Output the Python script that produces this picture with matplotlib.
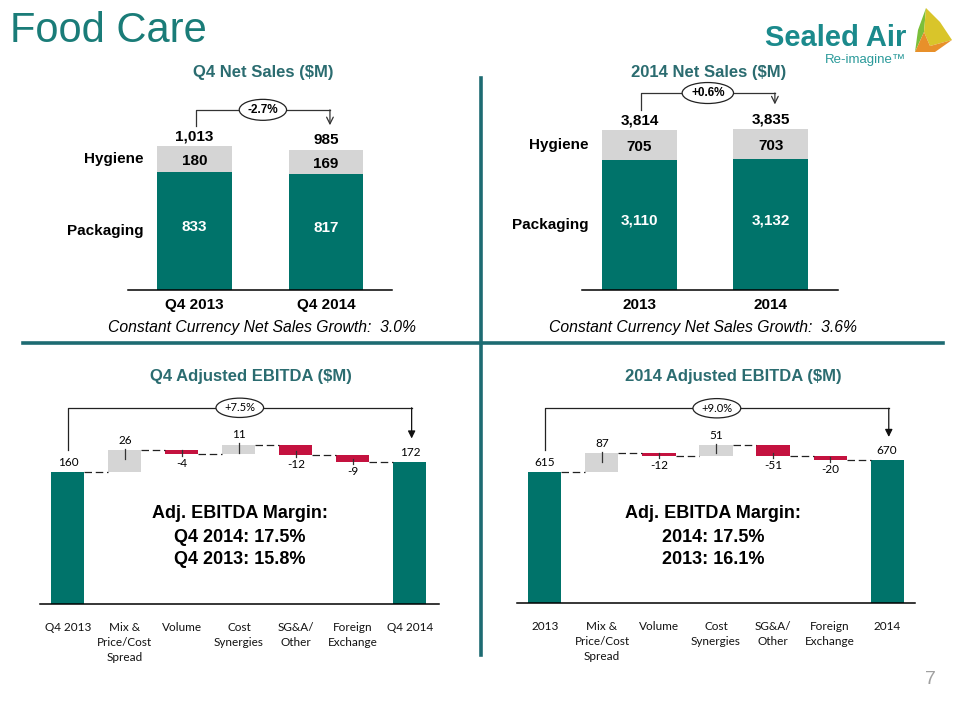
import matplotlib
matplotlib.use("Agg")
import matplotlib.pyplot as plt
from matplotlib.lines import Line2D
from matplotlib.patches import Polygon

TEAL = "#00736A"
GRAY = "#D5D5D5"
RED = "#C4123F"
HEAD = "#2B6C70"
RULE = "#1D6B72"
ARIAL = ["Liberation Sans", "DejaVu Sans"]
NARROW = ["Liberation Sans Narrow", "Liberation Sans", "DejaVu Sans"]
CALIBRI = ["Lato", "DejaVu Sans"]

# net sales, stacked
q4_years = ["Q4 2013", "Q4 2014"]
q4_packaging = [833, 817]
q4_hygiene = [180, 169]
q4_total = [1013, 985]
q4_growth = "-2.7%"
q4_cc_growth = "3.0%"

fy_years = ["2013", "2014"]
fy_packaging = [3110, 3132]
fy_hygiene = [705, 703]
fy_total = [3814, 3835]
fy_growth = "+0.6%"
fy_cc_growth = "3.6%"

# adjusted EBITDA bridges
q4_bridge_cats = ["Q4 2013", "Mix &\nPrice/Cost\nSpread", "Volume", "Cost\nSynergies",
                  "SG&A/\nOther", "Foreign\nExchange", "Q4 2014"]
q4_bridge = [160, 26, -4, 11, -12, -9, 172]
q4_bridge_growth = "+7.5%"
q4_margin = ["Q4 2014: 17.5%", "Q4 2013: 15.8%"]

fy_bridge_cats = ["2013", "Mix &\nPrice/Cost\nSpread", "Volume", "Cost\nSynergies",
                  "SG&A/\nOther", "Foreign\nExchange", "2014"]
fy_bridge = [615, 87, -12, 51, -51, -20, 670]
fy_bridge_growth = "+9.0%"
fy_margin = ["2014: 17.5%", "2013: 16.1%"]

W, H = 960, 720
fig = plt.figure(figsize=(9.6, 7.2), dpi=100)


def box(l, t, r, b):
    return [l / W, 1 - b / H, (r - l) / W, (b - t) / H]


def ftext(x, y, s, **kw):
    fig.text(x / W, 1 - y / H, s, **kw)


def clean(ax):
    for s in ["top", "right", "left"]:
        ax.spines[s].set_visible(False)
    ax.spines["bottom"].set_linewidth(1.1)
    ax.set_yticks([])
    ax.patch.set_alpha(0)


def stacked(rect, xlim, ytop, cats, pack, hyg, tot, growth):
    ax = fig.add_axes(rect)
    x = list(range(len(cats)))
    w = 0.57
    ax.bar(x, pack, w, color=TEAL)
    ax.bar(x, hyg, w, bottom=pack, color=GRAY)
    ax.set_xlim(*xlim)
    ax.set_ylim(0, ytop)
    clean(ax)
    ax.set_xticks(x, cats, fontsize=11, fontweight="bold", family=ARIAL)
    ax.tick_params(axis="x", length=0, pad=6)
    for i in x:
        ax.text(i, pack[i] / 2 + ytop * 0.02, f"{pack[i]:,}", color="white", ha="center",
                va="center", fontsize=11, fontweight="bold", family=ARIAL)
        ax.text(i, pack[i] + hyg[i] / 2 - ytop * 0.01, f"{hyg[i]:,}", color="black",
                ha="center", va="center", fontsize=11, fontweight="bold", family=ARIAL)
        ax.annotate(f"{tot[i]:,}", (i, tot[i]), xytext=(0, 2), textcoords="offset points",
                    ha="center", va="bottom", fontsize=11, fontweight="bold", family=ARIAL)
    lab_x = -w / 2 - 0.1
    ax.text(lab_x, pack[0] + hyg[0] / 2, "Hygiene", ha="right", va="center",
            fontsize=11, fontweight="bold", family=ARIAL)
    ax.text(lab_x, pack[0] / 2, "Packaging", ha="right", va="center",
            fontsize=11, fontweight="bold", family=ARIAL)
    # growth bracket
    x0, x1 = 0.01, 1.03
    y0 = tot[0] + ytop * 0.105
    yb = max(tot) + ytop * 0.19
    y1 = tot[1] + ytop * 0.13
    ax.plot([x0, x0, x1], [y0, yb, yb], color="#333333", lw=0.9, clip_on=False)
    ax.annotate("", xy=(x1, y1), xytext=(x1, yb),
                arrowprops=dict(arrowstyle="->", color="#333333", lw=0.9,
                                shrinkA=0, shrinkB=0, mutation_scale=12))
    ax.text((x0 + x1) / 2, yb, growth, ha="center", va="center", fontsize=8.5,
            fontweight="bold", family=ARIAL,
            bbox=dict(boxstyle="ellipse,pad=0.12", fc="white", ec="#222222", lw=0.9))
    return ax


def bridge(rect, xlim, ytop, cats, vals, growth):
    ax = fig.add_axes(rect)
    n = len(vals)
    bottoms, heights, colors, levels = [], [], [], []
    run = 0
    for i, v in enumerate(vals):
        if i == 0 or i == n - 1:
            bottoms.append(0)
            heights.append(v)
            colors.append(TEAL)
            run = v
        else:
            bottoms.append(run if v >= 0 else run + v)
            heights.append(abs(v))
            colors.append(GRAY if v >= 0 else RED)
            run += v
        levels.append(run)
    w = 0.58
    ax.bar(range(n), heights, w, bottom=bottoms, color=colors)
    ax.set_xlim(*xlim)
    ax.set_ylim(0, ytop)
    clean(ax)
    ax.set_xticks(range(n), cats, fontsize=8.5, family=CALIBRI, linespacing=1.45,
                  color="#111111")
    ax.tick_params(axis="x", length=0, pad=13)
    for i in range(n - 1):
        ax.plot([i + w / 2, i + 1 - w / 2], [levels[i], levels[i]], color="#222222",
                lw=0.9, ls=(0, (6, 3)))
    d = ytop * 0.02
    for i, v in enumerate(vals):
        lab = f"{v}"
        if i == 0 or i == n - 1:
            ax.annotate(lab, (i, v), xytext=(0, 3), textcoords="offset points",
                        ha="center", va="bottom", fontsize=8.5, family=CALIBRI)
        elif v >= 0:
            top = bottoms[i] + heights[i]
            ax.plot([i, i], [top - 2 * d, top + 0.3 * d], color="#333333", lw=0.9)
            ax.annotate(lab, (i, top), xytext=(0, 3), textcoords="offset points",
                        ha="center", va="bottom", fontsize=8.5, family=CALIBRI)
        else:
            bot = bottoms[i]
            ax.plot([i, i], [bot - 0.5 * d, bot + 0.8 * d], color="#333333", lw=0.9)
            ax.annotate(lab, (i, bot), xytext=(0, -3), textcoords="offset points",
                        ha="center", va="top", fontsize=8.5, family=CALIBRI)
    # growth bracket
    x0, x1 = 0, n - 1 + 0.03
    y0 = vals[0] + ytop * 0.108
    yb = vals[0] + ytop * 0.314
    y1 = vals[-1] + ytop * 0.115
    ax.plot([x0, x0, x1], [y0, yb, yb], color="#222222", lw=0.9, clip_on=False)
    ax.annotate("", xy=(x1, y1), xytext=(x1, yb),
                arrowprops=dict(arrowstyle="-|>", color="#111111", lw=0.9,
                                shrinkA=0, shrinkB=0, mutation_scale=11))
    ax.text((x0 + x1) / 2, yb, growth, ha="center", va="center", fontsize=8,
            family=CALIBRI,
            bbox=dict(boxstyle="ellipse,pad=0.12", fc="white", ec="#222222", lw=0.9))
    return ax


stacked(box(128, 100, 392, 290), (-0.506, 1.502), 1336, q4_years,
        q4_packaging, q4_hygiene, q4_total, q4_growth)
stacked(box(582, 100, 838, 290), (-0.437, 1.51), 4529, fy_years,
        fy_packaging, fy_hygiene, fy_total, fy_growth)
bridge(box(40, 400, 439, 604), (-0.49, 6.51), 247, q4_bridge_cats, q4_bridge,
       q4_bridge_growth)
bridge(box(517, 400, 915, 603), (-0.49, 6.49), 953, fy_bridge_cats, fy_bridge,
       fy_bridge_growth)

# headings
ftext(10, 31, "Food Care", fontsize=30, color="#1A7C78", family=ARIAL, va="center")
ftext(263, 72, "Q4 Net Sales ($M)", fontsize=12, fontweight="bold", color=HEAD,
      family=ARIAL, ha="center", va="center")
ftext(709, 72, "2014 Net Sales ($M)", fontsize=12, fontweight="bold", color=HEAD,
      family=ARIAL, ha="center", va="center")
ftext(251, 376, "Q4 Adjusted EBITDA ($M)", fontsize=12, fontweight="bold", color=HEAD,
      family=ARIAL, ha="center", va="center")
ftext(733, 376, "2014 Adjusted EBITDA ($M)", fontsize=12, fontweight="bold", color=HEAD,
      family=ARIAL, ha="center", va="center")

ftext(262, 328, f"Constant Currency Net Sales Growth:  {q4_cc_growth}", fontsize=11.3,
      style="italic", family=NARROW, ha="center", va="center")
ftext(703, 328, f"Constant Currency Net Sales Growth:  {fy_cc_growth}", fontsize=11.3,
      style="italic", family=NARROW, ha="center", va="center")

for cx, lines in [(240, q4_margin), (713, fy_margin)]:
    ftext(cx, 514, "Adj. EBITDA Margin:", fontsize=13, fontweight="bold", family=ARIAL,
          ha="center", va="center")
    ftext(cx, 537, lines[0], fontsize=13, fontweight="bold", family=ARIAL,
          ha="center", va="center")
    ftext(cx, 559, lines[1], fontsize=13, fontweight="bold", family=ARIAL,
          ha="center", va="center")

# dividers
fig.add_artist(Line2D([481 / W, 481 / W], [1 - 78 / H, 1 - 655 / H], color=RULE, lw=2.6))
fig.add_artist(Line2D([23 / W, 943 / W], [1 - 343 / H, 1 - 343 / H], color=RULE, lw=2.6))

# logo
ftext(836, 38, "Sealed Air", fontsize=21, fontweight="bold", color="#1B8A8C",
      family=ARIAL, ha="center", va="center")
ftext(865, 60, "Re-imagine\u2122", fontsize=9.5, color="#2A9A9A", family=ARIAL,
      ha="center", va="center")
sail = [
    ([(915, 52), (918, 30), (926, 8), (924, 32)], "#7BBF3A"),
    ([(924, 32), (926, 8), (940, 22), (952, 40), (930, 46)], "#D9C52A"),
    ([(915, 52), (924, 32), (930, 46), (952, 40), (935, 52)], "#E8902A"),
]
for pts, c in sail:
    fig.add_artist(Polygon([(x / W, 1 - y / H) for x, y in pts], closed=True,
                           transform=fig.transFigure, fc=c, ec="none"))

ftext(930, 680, "7", fontsize=14, color="#A0A0A0", family=ARIAL, ha="center", va="center")

fig.savefig("out.png", dpi=100, facecolor="white")
